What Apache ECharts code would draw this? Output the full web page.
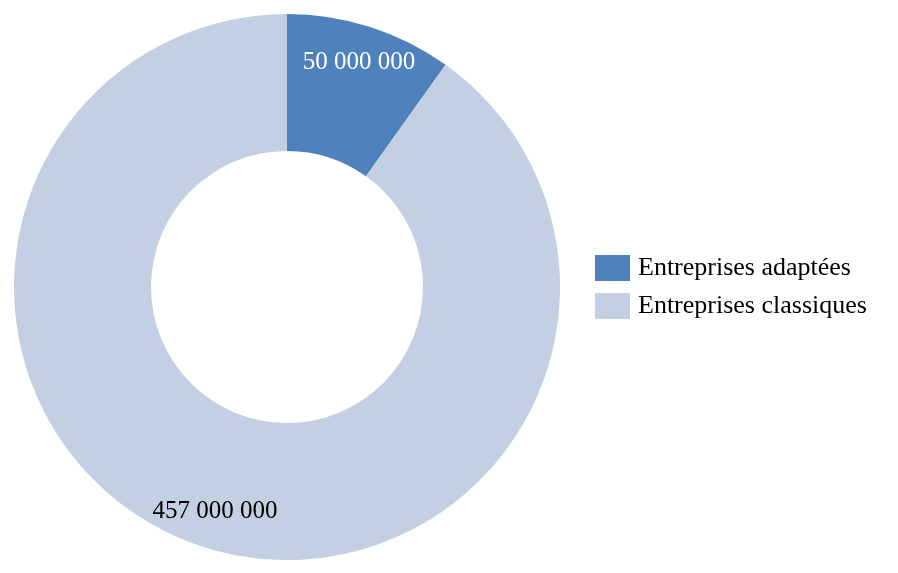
<!DOCTYPE html>
<html>
<head>
<meta charset="utf-8">
<script src="https://cdn.jsdelivr.net/npm/echarts@6/dist/echarts.min.js"></script>
<style>html,body{margin:0;padding:0;background:#fff}#c{width:898px;height:573px}</style>
</head>
<body>
<div id="c"></div>
<script>
const categories = ['Entreprises adaptées', 'Entreprises classiques'];
const values = [50000000, 457000000];
const colors = ['#4F81BD', '#C3CFE2'];
const labelColors = ['#ffffff', '#000000'];

function fmt(v) {
  return String(v).replace(/\B(?=(\d{3})+(?!\d))/g, ' ');
}

const font = 'Liberation Serif';
const data = categories.map((n, i) => ({ name: n, value: values[i], itemStyle: { color: colors[i] } }));
const labelData = categories.map((n, i) => ({
  name: n, value: values[i],
  itemStyle: { color: 'rgba(0,0,0,0)' },
  label: { color: labelColors[i] }
}));

const chart = echarts.init(document.getElementById('c'));
chart.setOption({
  animation: false,
  legend: {
    orient: 'vertical',
    left: 590,
    top: 250,
    itemWidth: 35,
    itemHeight: 26,
    itemGap: 12,
    icon: 'rect',
    data: categories,
    textStyle: { fontFamily: font, fontSize: 26, color: '#000', padding: [0, 0, 0, 3] }
  },
  series: [
    {
      type: 'pie',
      center: [287, 287],
      radius: [136, 273],
      startAngle: 90,
      clockwise: true,
      label: { show: false },
      labelLine: { show: false },
      itemStyle: { borderWidth: 0 },
      emphasis: { disabled: true },
      data: data
    },
    {
      type: 'pie',
      center: [287, 287],
      radius: [200, 266],
      startAngle: 90,
      clockwise: true,
      silent: true,
      legendHoverLink: false,
      emphasis: { disabled: true },
      label: {
        show: true,
        position: 'inside',
        fontFamily: font,
        fontSize: 25,
        formatter: p => fmt(p.value)
      },
      labelLine: { show: false },
      data: labelData
    }
  ]
});
</script>
</body>
</html>
